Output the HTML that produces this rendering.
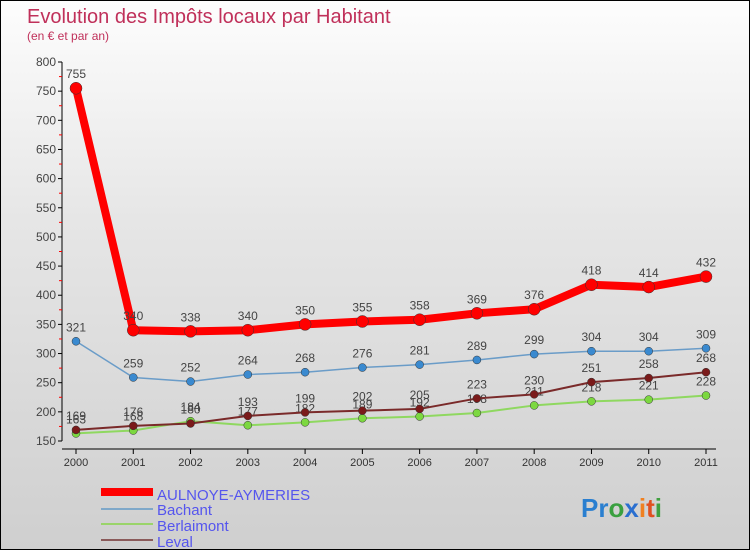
<!DOCTYPE html>
<html><head><meta charset="utf-8">
<style>
body{margin:0}
#wrap{position:relative;width:750px;height:550px;box-sizing:border-box;border:1px solid #000;background:linear-gradient(#fdfdfd,#e6e6e6 40%,#cfcfcf);overflow:hidden;font-family:"Liberation Sans",sans-serif}
</style></head><body>
<div id="wrap">
<svg id="svg" width="750" height="550" style="position:absolute;left:0;top:0">
<text x="26" y="22" font-size="20" fill="#c0305a">Evolution des Impôts locaux par Habitant</text>
<text x="26" y="39" font-size="12" fill="#c0305a">(en € et par an)</text>
<g id="axes"></g><g id="series"></g>
<g>
<rect x="100" y="487" width="52" height="8" fill="#f00"/>
<text x="156" y="499" font-size="15" fill="#5555ee">AULNOYE-AYMERIES</text>
<rect x="100" y="507" width="52" height="2" fill="#7fa8c9"/>
<text x="156" y="514" font-size="15" fill="#5555ee">Bachant</text>
<rect x="100" y="522" width="52" height="2" fill="#9ad46a"/>
<text x="156" y="530" font-size="15" fill="#5555ee">Berlaimont</text>
<rect x="100" y="538" width="52" height="2" fill="#8a5a5a"/>
<text x="156" y="546" font-size="15" fill="#5555ee">Leval</text>
</g>
<text x="580" y="516" font-size="26" font-weight="bold"><tspan fill="#2a7fd0">Pr</tspan><tspan fill="#3aa040">o</tspan><tspan fill="#2a6fd0">x</tspan><tspan fill="#f08020">i</tspan><tspan fill="#e05020">t</tspan><tspan fill="#40a040">i</tspan></text>
</svg>
</div>
<script>
const years=[2000,2001,2002,2003,2004,2005,2006,2007,2008,2009,2010,2011];
const aulnoye=[755,340,338,340,350,355,358,369,376,418,414,432];
const bachant=[321,259,252,264,268,276,281,289,299,304,304,309];
const berlaimont=[163,168,184,177,182,189,192,198,211,218,221,228];
const leval=[169,176,180,193,199,202,205,223,230,251,258,268];
const yTicks=[150,200,250,300,350,400,450,500,550,600,650,700,750,800];
const NS="http://www.w3.org/2000/svg";
const x=i=>75+i*(630/11);
const y=v=>440-(v-150)*(379/650);
function mk(t,a,p){const e=document.createElementNS(NS,t);for(const k in a)e.setAttribute(k,a[k]);p.appendChild(e);return e;}
const ax=document.getElementById('axes');
let ya=mk('line',{x1:61,y1:y(800),x2:61,y2:y(150),stroke:'#000'},ax);


let xa=mk('line',{x1:61,y1:448,x2:715,y2:448,stroke:'#000'},ax);


yTicks.forEach(v=>{
 mk('line',{x1:57,y1:y(v),x2:61,y2:y(v),stroke:'#000'},ax);
 if(v<800) mk('line',{x1:58,y1:y(v+25),x2:61,y2:y(v+25),stroke:'#f00'},ax);
 const t=mk('text',{x:55,y:y(v)+4,'font-size':12,fill:'#444','text-anchor':'end'},ax);t.textContent=v;
 
 
});
years.forEach((yr,i)=>{
 mk('line',{x1:x(i),y1:448,x2:x(i),y2:453,stroke:'#000'},ax);
 const t=mk('text',{x:x(i),y:465,'font-size':11,fill:'#333','text-anchor':'middle'},ax);t.textContent=yr;
 
 
});
const sg=document.getElementById('series');
function draw(data,name,color,w,r,dot){
 const g=mk('g',{},sg);
 
 
 const pl=mk('polyline',{points:data.map((v,i)=>x(i)+','+y(v)).join(' '),fill:'none',stroke:color,'stroke-width':w,'stroke-linejoin':'round'},g);
 
 
 data.forEach((v,i)=>{
  const c=mk('circle',{cx:x(i),cy:y(v),r:r,fill:dot,stroke:'#333','stroke-width':0.5},g);
  
  
  const t=mk('text',{x:x(i),y:y(v)-10,'font-size':12,fill:'#444','text-anchor':'middle'},g);t.textContent=v;
  
  
 });
}
draw(berlaimont,'berlaimont','#8fd860',2,4,'#7cd840');
draw(leval,'leval','#7a2a2a',2,4,'#7a1a1a');
draw(bachant,'bachant','#6a9cc8',1.5,4,'#3a8ad0');
draw(aulnoye,'aulnoye','#f00',8,6,'#f00');
</script>
</body></html>
